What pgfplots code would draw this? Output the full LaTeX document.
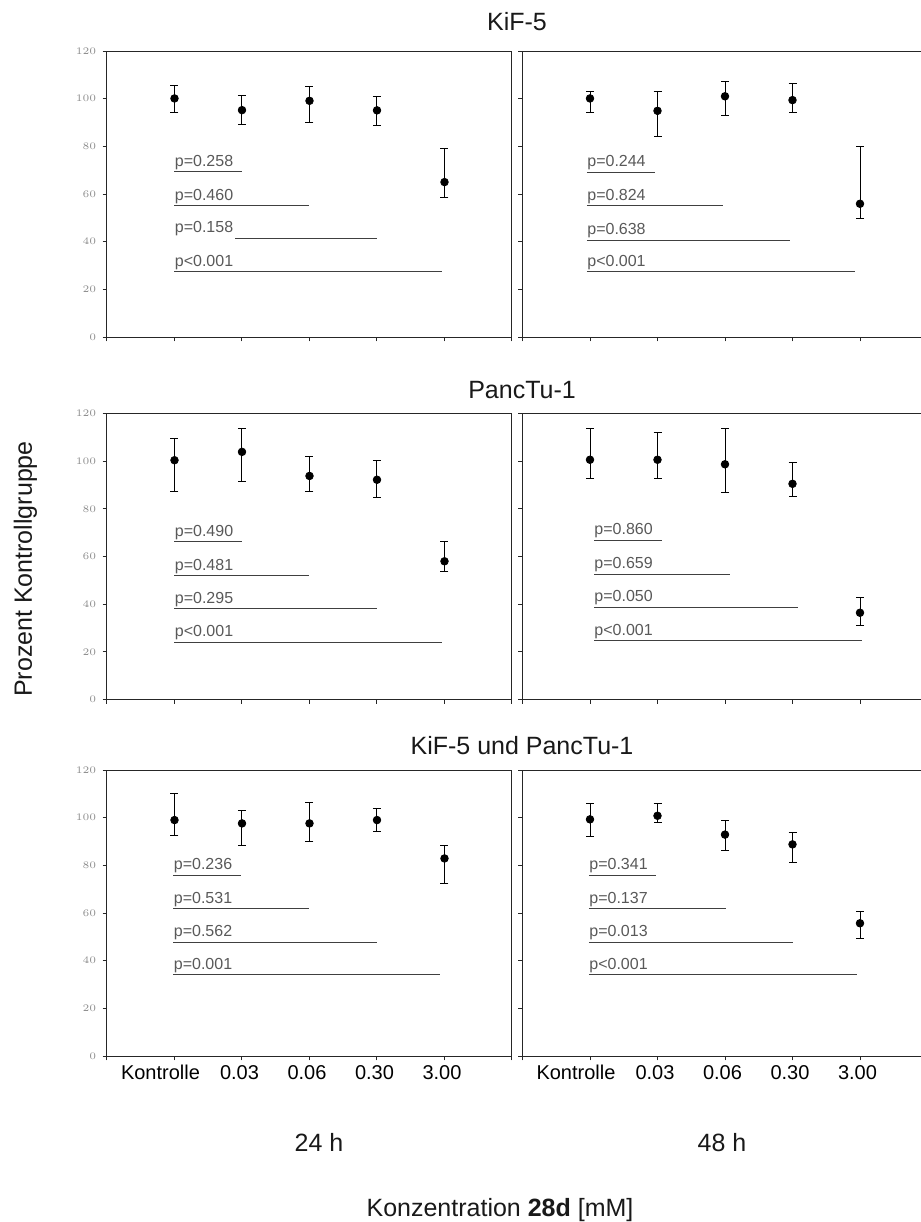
\documentclass[border=0pt]{standalone}
\usepackage{fontspec}
\setmainfont{Liberation Sans}
\usepackage{pgfplots}
\usepackage{pgfplotstable}
\pgfplotsset{compat=1.18}

\pgfplotstableread{
x y ep em
1 100.1 5.5 5.7
2 95.2 6.3 6.1
3 99.1 5.9 9.2
4 95.1 6.0 6.5
5 65.0 14.1 6.3
}\dAL
\pgfplotstableread{
x y ep em
1 100.1 2.8 5.7
2 94.9 8.0 10.7
3 101.0 6.4 8.0
4 99.4 6.9 5.4
5 55.9 23.9 6.2
}\dAR
\pgfplotstableread{
x y ep em
1 100.4 9.1 13.2
2 103.9 9.8 12.3
3 93.8 8.2 6.6
4 92.2 7.9 7.4
5 58.0 8.1 4.2
}\dBL
\pgfplotstableread{
x y ep em
1 100.6 13.1 7.8
2 100.6 11.5 7.8
3 98.7 15.0 11.8
4 90.5 9.1 5.3
5 36.4 6.3 5.5
}\dBR
\pgfplotstableread{
x y ep em
1 99.0 11.2 6.4
2 97.6 5.3 9.1
3 97.6 8.7 7.4
4 99.0 4.8 4.7
5 82.9 5.6 10.5
}\dCL
\pgfplotstableread{
x y ep em
1 99.3 6.6 7.4
2 100.8 5.1 3.0
3 92.9 6.1 6.6
4 88.8 5.0 7.4
5 55.7 4.9 6.5
}\dCR

\tikzset{
  ptext/.style={anchor=base west, inner sep=0pt, yshift=2.8pt, text=black!65, font=\fontsize{8}{9}\selectfont},
  big/.style={inner sep=0pt, anchor=base, font=\fontsize{12.5}{15}\selectfont, text=black!90},
}
\pgfplotsset{
  panel/.style={scale only axis, width=202.5pt, height=143pt, anchor=south west,
    xmin=0, xmax=6, ymin=0, ymax=120,
    xtick={0,1,2,3,4,5,6}, xticklabels={},
    ytick={0,20,...,120},
    xtick pos=bottom, ytick pos=left,
    tick align=outside, major tick length=2.2pt,
    axis line style={black!85, line width=0.5pt},
    tick style={black!85, line width=0.5pt},
    clip=false},
  leftpanel/.style={panel,
    yticklabel style={font=\fontsize{3.2}{3.5}\selectfont, text=black!45, inner sep=0pt, xshift=-3pt}},
  rightpanel/.style={panel, yticklabels={}},
  bottomlabels/.style={xticklabels={,{\hspace*{-11.5pt}Kontrolle},0.03,0.06,0.30,3.00,},
    xticklabel style={font=\fontsize{10}{12}\selectfont, anchor=base, inner sep=0pt, xshift=-1.25pt, yshift=-9.5pt}},
  pts/.style={only marks, mark=*, mark size=1.9pt, black,
    error bars/.cd, y dir=both, y explicit,
    error bar style={line width=0.5pt, black},
    error mark options={rotate=90, mark size=2pt, line width=0.5pt, black}},
  pline/.style={no marks, black!75, line width=0.5pt},
}

\begin{document}
\begin{tikzpicture}
\useasboundingbox (0pt,0pt) rectangle (460.5pt,-611pt);

% ---------- Row 1: KiF-5 ----------
\begin{axis}[leftpanel, at={(53.5pt,-168.5pt)}]
\addplot[pts] table[x=x,y=y,y error plus=ep,y error minus=em] {\dAL};
\addplot[pline] coordinates {(1,69.3) (2,69.3)};
\addplot[pline] coordinates {(1,55.0) (3,55.0)};
\addplot[pline] coordinates {(1.9,41.3) (4,41.3)};
\addplot[pline] coordinates {(1,27.3) (4.96,27.3)};
\node[ptext] at (axis cs:1,69.3) {p=0.258};
\node[ptext] at (axis cs:1,55.0) {p=0.460};
\node[ptext] at (axis cs:1,41.3) {p=0.158};
\node[ptext] at (axis cs:1,27.3) {p<0.001};
\end{axis}
\begin{axis}[rightpanel, at={(261.25pt,-168.5pt)}]
\addplot[pts] table[x=x,y=y,y error plus=ep,y error minus=em] {\dAR};
\addplot[pline] coordinates {(0.955,69.0) (1.965,69.0)};
\addplot[pline] coordinates {(0.955,55.0) (2.97,55.0)};
\addplot[pline] coordinates {(0.955,40.7) (3.97,40.7)};
\addplot[pline] coordinates {(0.955,27.3) (4.92,27.3)};
\node[ptext] at (axis cs:0.955,69.0) {p=0.244};
\node[ptext] at (axis cs:0.955,55.0) {p=0.824};
\node[ptext] at (axis cs:0.955,40.7) {p=0.638};
\node[ptext] at (axis cs:0.955,27.3) {p<0.001};
\end{axis}

% ---------- Row 2: PancTu-1 ----------
\begin{axis}[leftpanel, at={(53.5pt,-349.75pt)}]
\addplot[pts] table[x=x,y=y,y error plus=ep,y error minus=em] {\dBL};
\addplot[pline] coordinates {(1,66.2) (2,66.2)};
\addplot[pline] coordinates {(1,51.9) (3,51.9)};
\addplot[pline] coordinates {(1,38.0) (4,38.0)};
\addplot[pline] coordinates {(1,23.9) (4.97,23.9)};
\node[ptext] at (axis cs:1,66.2) {p=0.490};
\node[ptext] at (axis cs:1,51.9) {p=0.481};
\node[ptext] at (axis cs:1,38.0) {p=0.295};
\node[ptext] at (axis cs:1,23.9) {p<0.001};
\end{axis}
\begin{axis}[rightpanel, at={(261.25pt,-349.75pt)}]
\addplot[pts] table[x=x,y=y,y error plus=ep,y error minus=em] {\dBR};
\addplot[pline] coordinates {(1.06,66.7) (2.06,66.7)};
\addplot[pline] coordinates {(1.06,52.6) (3.08,52.6)};
\addplot[pline] coordinates {(1.06,38.6) (4.08,38.6)};
\addplot[pline] coordinates {(1.06,24.6) (5.03,24.6)};
\node[ptext] at (axis cs:1.06,66.7) {p=0.860};
\node[ptext] at (axis cs:1.06,52.6) {p=0.659};
\node[ptext] at (axis cs:1.06,38.6) {p=0.050};
\node[ptext] at (axis cs:1.06,24.6) {p<0.001};
\end{axis}

% ---------- Row 3: KiF-5 und PancTu-1 ----------
\begin{axis}[leftpanel, bottomlabels, at={(53.5pt,-528pt)}]
\addplot[pts] table[x=x,y=y,y error plus=ep,y error minus=em] {\dCL};
\addplot[pline] coordinates {(0.985,75.8) (1.985,75.8)};
\addplot[pline] coordinates {(0.985,61.7) (3.0,61.7)};
\addplot[pline] coordinates {(0.985,47.7) (4.0,47.7)};
\addplot[pline] coordinates {(0.985,34.0) (4.94,34.0)};
\node[ptext] at (axis cs:0.985,75.8) {p=0.236};
\node[ptext] at (axis cs:0.985,61.7) {p=0.531};
\node[ptext] at (axis cs:0.985,47.7) {p=0.562};
\node[ptext] at (axis cs:0.985,34.0) {p=0.001};
\end{axis}
\begin{axis}[rightpanel, bottomlabels, at={(261.25pt,-528pt)}]
\addplot[pts] table[x=x,y=y,y error plus=ep,y error minus=em] {\dCR};
\addplot[pline] coordinates {(0.985,75.8) (1.985,75.8)};
\addplot[pline] coordinates {(0.985,61.7) (3.01,61.7)};
\addplot[pline] coordinates {(0.985,47.7) (4.01,47.7)};
\addplot[pline] coordinates {(0.985,34.0) (4.96,34.0)};
\node[ptext] at (axis cs:0.985,75.8) {p=0.341};
\node[ptext] at (axis cs:0.985,61.7) {p=0.137};
\node[ptext] at (axis cs:0.985,47.7) {p=0.013};
\node[ptext] at (axis cs:0.985,34.0) {p<0.001};
\end{axis}

% ---------- titles and labels ----------
\node[big] at (258.5pt,-15pt) {KiF-5};
\node[big] at (261pt,-199pt) {PancTu-1};
\node[big] at (261pt,-377pt) {KiF-5 und PancTu-1};
\node[big, rotate=90] at (16pt,-284.5pt) {Prozent Kontrollgruppe};
\node[big] at (159.5pt,-575.5pt) {24 h};
\node[big] at (361pt,-575.5pt) {48 h};
\node[big] at (250pt,-608pt) {Konzentration \textbf{28d} [mM]};
\end{tikzpicture}
\end{document}
